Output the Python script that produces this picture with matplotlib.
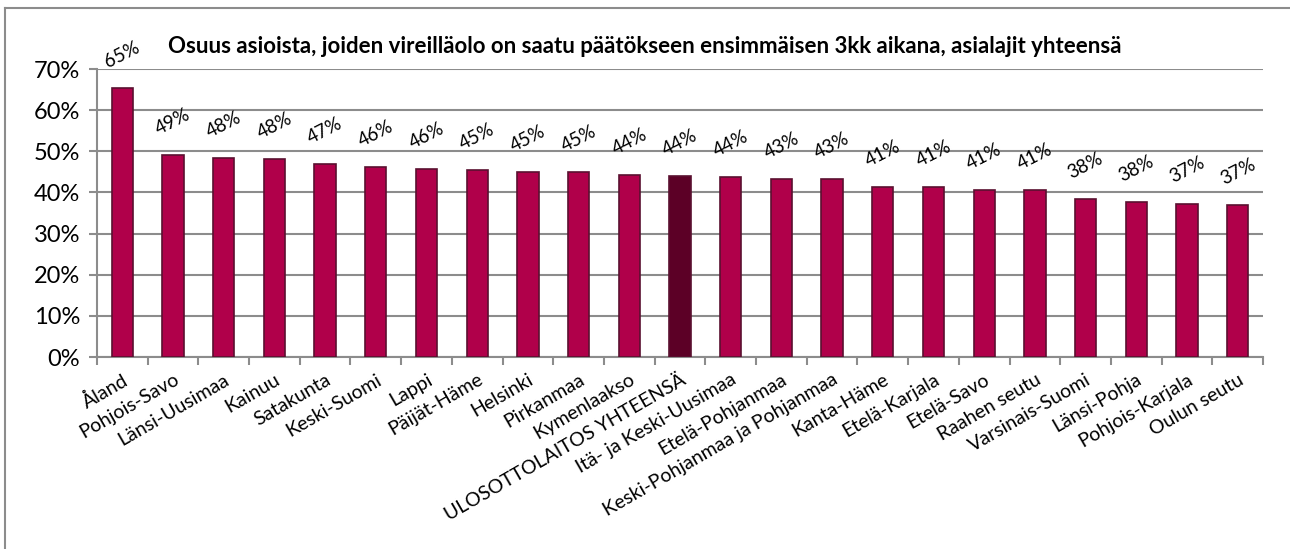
import matplotlib
matplotlib.use("Agg")
import matplotlib.pyplot as plt
from matplotlib.lines import Line2D
from matplotlib.ticker import FuncFormatter, FixedLocator

# Osuus asioista (%) ulosottopiireittäin
regions = ["Åland", "Pohjois-Savo", "Länsi-Uusimaa", "Kainuu", "Satakunta",
           "Keski-Suomi", "Lappi", "Päijät-Häme", "Helsinki", "Pirkanmaa",
           "Kymenlaakso", "ULOSOTTOLAITOS YHTEENSÄ", "Itä- ja Keski-Uusimaa",
           "Etelä-Pohjanmaa", "Keski-Pohjanmaa ja Pohjanmaa", "Kanta-Häme",
           "Etelä-Karjala", "Etelä-Savo", "Raahen seutu", "Varsinais-Suomi",
           "Länsi-Pohja", "Pohjois-Karjala", "Oulun seutu"]
shares = [65.4, 49.1, 48.4, 48.1, 47.0, 46.1, 45.7, 45.4, 45.0, 45.0,
          44.2, 44.0, 43.8, 43.2, 43.2, 41.4, 41.3, 40.7, 40.6, 38.4,
          37.6, 37.3, 36.9]
total_label = "ULOSOTTOLAITOS YHTEENSÄ"
y_ticks = [0, 10, 20, 30, 40, 50, 60, 70]

title = ("Osuus asioista, joiden vireilläolo on saatu päätökseen "
         "ensimmäisen 3kk aikana, asialajit yhteensä")

plt.rcParams['font.family'] = ['Lato', 'DejaVu Sans']

bar_color = "#B0004A"
total_color = "#5C0026"
edge_color = "#5A1030"
grid_color = "#8C8C8C"

fig = plt.figure(figsize=(12.9, 5.49), dpi=100)
ax = fig.add_axes([97 / 1290, 1 - 357 / 549, (1263 - 97) / 1290, (357 - 69) / 549])

x = list(range(len(regions)))
colors = [total_color if r == total_label else bar_color for r in regions]
ax.bar(x, shares, width=0.42, color=colors, edgecolor=edge_color,
       linewidth=1.2, zorder=3)

# Value labels, tilted above each bar
for xi, v in zip(x, shares):
    ax.annotate(f"{v:.0f}%", (xi, v), xytext=(0, 24), textcoords="offset points",
                ha="center", va="center", rotation=27, fontsize=13.5, color="black")

ax.set_xlim(-0.5, len(regions) - 0.5)
ax.set_ylim(0, 70)
ax.yaxis.set_major_locator(FixedLocator(y_ticks))
ax.yaxis.set_major_formatter(FuncFormatter(lambda v, _: f"{v:.0f}%"))
ax.grid(axis="y", color=grid_color, linewidth=1.5, zorder=0)

# Category names rotated, ticks between categories
ax.set_xticks(x)
ax.set_xticklabels(regions, rotation=30, ha="right", rotation_mode="anchor",
                   fontsize=14)
ax.tick_params(axis="x", length=0, pad=10)
ax.set_xticks([i - 0.5 for i in range(len(regions) + 1)], minor=True)
ax.tick_params(axis="x", which="minor", length=6, width=1.5, color=grid_color)
ax.tick_params(axis="y", length=6, width=1.5, color=grid_color, labelsize=17, pad=6)

for s in ["top", "right"]:
    ax.spines[s].set_visible(False)
for s in ["left", "bottom"]:
    ax.spines[s].set_color(grid_color)
    ax.spines[s].set_linewidth(1.5)

fig.text(645 / 1290, 1 - 47 / 549, title, ha="center", va="center",
         fontsize=16, fontweight="bold")

# Chart frame (top and left edges)
top = 1 - 8 / 549
left = 5 / 1290
fig.add_artist(Line2D([left, 1], [top, top], transform=fig.transFigure,
                      color=grid_color, linewidth=1.5))
fig.add_artist(Line2D([left, left], [0, top], transform=fig.transFigure,
                      color=grid_color, linewidth=1.5))

fig.savefig("out.png", dpi=100)
